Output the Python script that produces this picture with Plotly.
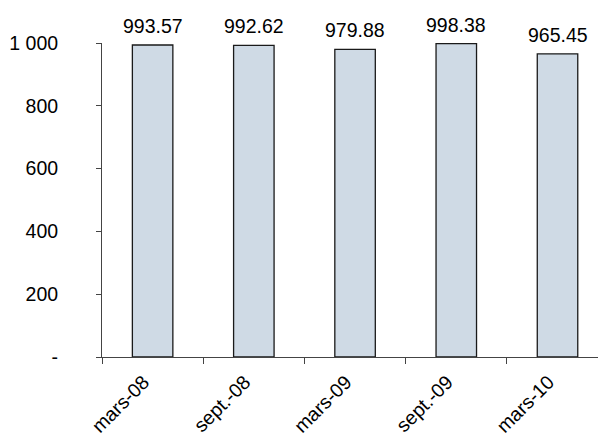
import plotly.graph_objects as go

categories = ["mars-08", "sept.-08", "mars-09", "sept.-09", "mars-10"]
values = [993.57, 992.62, 979.88, 998.38, 965.45]
y_tickvals = [0, 200, 400, 600, 800, 1000]
y_ticktext = ["-", "200", "400", "600", "800", "1 000"]

FONT = "Liberation Sans, Arial, sans-serif"
FS = 19.5

fig = go.Figure(go.Bar(
    x=categories, y=values, width=0.4,
    marker=dict(color="#CFDAE5", line=dict(color="#1a1a1a", width=1.3)),
    hoverinfo="skip",
))

for c, v in zip(categories, values):
    fig.add_annotation(
        x=c, y=v, text=f"{v:.2f}", showarrow=False,
        xanchor="center", yanchor="bottom", yshift=6,
        font=dict(family=FONT, size=FS, color="#000000"),
    )

fig.update_layout(
    width=598, height=433,
    margin=dict(l=102, r=0, t=43, b=76, autoexpand=False),
    paper_bgcolor="white", plot_bgcolor="white",
    font=dict(family=FONT, size=FS, color="#000000"),
    showlegend=False,
    xaxis=dict(
        type="category", range=[-0.5, 4.4], tickson="boundaries",
        ticks="outside", ticklen=6, tickcolor="#444444", tickwidth=1,
        ticklabelshift=-9, ticklabelstandoff=5,
        showline=True, linecolor="#444444", linewidth=1,
        tickangle=-45, showgrid=False,
    ),
    yaxis=dict(
        range=[0, 1000], tickvals=y_tickvals, ticktext=y_ticktext,
        ticks="outside", ticklen=5, tickcolor="#444444", tickwidth=1,
        ticklabelstandoff=34,
        showline=True, linecolor="#444444", linewidth=1,
        showgrid=False, zeroline=False,
    ),
)

fig.write_html(
    "out.html",
    config={"displayModeBar": False},
    post_script="document.body.style.margin='0px';document.body.style.overflow='hidden';",
)
